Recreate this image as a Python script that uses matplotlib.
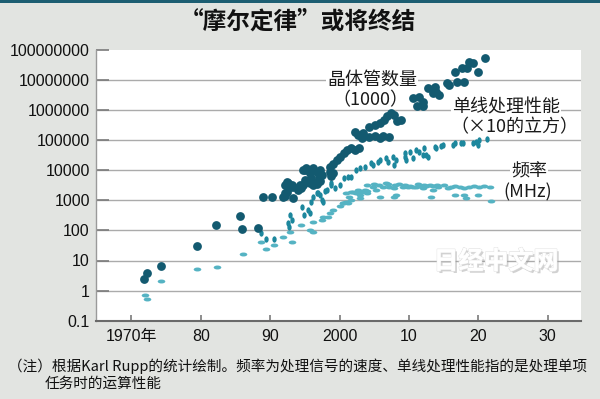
import numpy as np
import matplotlib
matplotlib.use('Agg')
import matplotlib.pyplot as plt
from matplotlib.path import Path
from matplotlib.patches import Rectangle
import matplotlib.patheffects as pe

plt.rcParams['font.family'] = ['Liberation Sans', 'Noto Sans CJK SC', 'DejaVu Sans']
CJK = ['Noto Sans CJK SC', 'DejaVu Sans']

# ---- data ----
trans_year = [1971.8, 1972.2, 1974.3, 1979.4, 1982.2, 1985.7, 1986.0, 1988.3, 1989.0, 1990.2,
              1991.9, 1992.1, 1992.2, 1992.4, 1992.6, 1992.9, 1993.1, 1993.3, 1994.0, 1994.3,
              1994.5, 1995.0, 1995.0, 1995.7, 1995.9, 1996.2, 1996.2, 1996.7, 1996.7, 1997.0,
              1997.2, 1998.6, 1998.8, 1999.1, 1999.6, 2000.1, 2000.6, 2001.1, 2001.6, 2002.2,
              2002.8, 2002.2, 2002.7, 2003.2, 2003.4, 2004.3, 2005.1, 2005.8, 2006.3, 2007.2,
              2004.3, 2005.1, 2005.8, 2006.4, 2006.9, 2007.4, 2007.9, 2008.3, 2008.9, 2010.6,
              2011.2, 2011.5, 2012.0, 2012.0, 2012.7, 2013.4, 2013.7, 2013.9, 2014.4, 2015.5,
              2015.8, 2016.6, 2016.9, 2018.0, 2017.6, 2018.3, 2018.7, 2019.2, 2019.9, 2020.9,
              1992.1, 1992.4, 1993.3, 1994.8, 1995.2, 1995.2, 1995.7, 1996.2, 1994.8, 1997.2,
              1997.4, 1999.1, 1998.6]
trans_value = [2.4, 3.8, 6.5, 30, 148, 295, 110, 120, 1260, 1260,
               1260, 3240, 1410, 1950, 3800, 2820, 3310, 1200, 2190, 3160,
               2630, 4680, 10000, 7940, 5370, 11500, 3980, 8910, 3390, 6030,
               4370, 8910, 6310, 15800, 21900, 28200, 36300, 46800, 53700, 46800,
               53700, 190500, 147900, 120200, 169800, 125900, 134900, 120200, 131800, 125900,
               281800, 316200, 363100, 467700, 631000, 776200, 676100, 416900, 467700, 2455000,
               1318000, 2754000, 1905000, 1318000, 5248000, 3548000, 5888000, 4074000, 3162000, 7762000,
               6761000, 18620000, 8710000, 8710000, 24550000, 24550000, 39810000, 35480000, 18620000, 54950000,
               1700, 4170, 2820, 10000, 11480, 4170, 3630, 3240, 3240, 10000,
               6920, 7940, 13180]

single_year = [1988.7, 1989.4, 1990.6, 1992.6, 1992.7, 1992.8, 1993.1, 1994.6, 1994.9, 1995.5,
               1995.7, 1995.9, 1996.2, 1996.7, 1997.2, 1997.4, 1997.6, 1997.9, 1998.2, 1998.8,
               1999.3, 2000.0, 2000.7, 2001.2, 2001.7, 2002.4, 2002.9, 2003.6, 2004.6, 2004.8,
               2005.5, 2005.8, 2006.7, 2007.0, 2007.7, 2007.9, 2008.2, 2009.4, 2009.4, 2009.6,
               2010.1, 2010.6, 2011.0, 2011.5, 2012.0, 2012.2, 2012.5, 2012.7, 2013.7, 2013.9,
               2014.6, 2014.9, 2016.3, 2016.6, 2017.5, 2017.8, 2019.2, 2019.7, 2019.9, 2020.1,
               2021.2, 1996.9, 1998.8]
single_value = [83, 50, 52, 174, 132, 324, 224, 617, 324, 479,
                372, 891, 1318, 1698, 1514, 1023, 891, 1995, 2239, 3236,
                2512, 3236, 5370, 6026, 6026, 10000, 11480, 13180, 16980, 14790,
                19050, 21880, 24550, 19050, 28180, 14790, 21880, 28180, 36310, 21880,
                40740, 24550, 46770, 40740, 31620, 53700, 31620, 28180, 60260, 53700,
                64570, 69180, 69180, 77620, 77620, 77620, 77620, 89130, 69180, 100000,
                109600, 1700, 3630]

freq_year = [1971.9, 1972.2, 1974.3, 1979.5, 1982.3, 1986.1, 1988.7, 1989.4, 1990.6, 1991.9,
             1992.8, 1993.1, 1994.5, 1995.7, 1996.2, 1996.2, 1997.4, 1997.6, 1998.4, 1998.6,
             1999.1, 2000.0, 2000.5, 2001.0, 2001.4, 2001.7, 2002.0, 2002.6, 2002.9, 2003.0,
             2003.6, 2004.0, 2004.8, 2005.3, 2005.8, 2006.7, 2007.2, 2007.9, 2008.2, 2009.1,
             2009.8, 2010.2, 2011.0, 2011.7, 2012.0, 2012.5, 2013.0, 2013.2, 2013.4, 2014.2,
             2015.0, 2015.7, 2016.0, 2016.6, 2016.6, 2017.3, 2018.0, 2018.0, 2018.2, 2018.7,
             2019.4, 2019.9, 2020.1, 2020.8, 2021.7, 2021.8,
             2001.0, 2001.7, 2002.4, 2003.1, 2003.9, 2007.9, 2000.5, 2001.2,
             2004.0, 2005.0, 2005.7, 2006.2, 2007.0, 2008.0, 2008.6, 2009.5, 2010.6, 2011.3,
             2012.2, 2013.4, 2014.0]
freq_value = [0.72, 0.51, 2.1, 5.1, 6.2, 16.6, 40, 25, 34, 62,
              91, 42, 151, 102, 91, 195, 224, 288, 275, 372,
              479, 631, 794, 891, 1318, 1023, 1905, 2188, 1514, 1175,
              2188, 1995, 2818, 2188, 1318, 3631, 2818, 2512, 1514, 2818,
              2818, 3020, 2818, 2951, 2512, 3020, 3162, 1318, 2188, 2818,
              3311, 2630, 2818, 3020, 1514, 2818, 2630, 1514, 1175, 2818,
              3020, 1514, 2818, 2951, 2818, 955,
              1778, 1862, 1698, 1950, 1738, 1318, 832, 794,
              3311, 3548, 3162, 2818, 3548, 3162, 3548, 3311, 2818, 3548,
              3162, 2951, 3311]

y_ticks = [0.1, 1, 10, 100, 1000, 10000, 100000, 1000000, 10000000, 100000000]
y_labels = ['0.1', '1', '10', '100', '1000', '10000', '100000', '1000000', '10000000', '100000000']
x_ticks = [1970, 1980, 1990, 2000, 2010, 2020, 2030]
x_labels = ['1970年', '80', '90', '2000', '10', '20', '30']

# ---- figure ----
W, H = 600, 399
fig = plt.figure(figsize=(6, 3.99), dpi=100)
fig.patch.set_facecolor('#e2e4e1')
fig.patches.append(Rectangle((0, 1 - 3 / H), 1, 3 / H, transform=fig.transFigure,
                             facecolor='#1d5e72', edgecolor='none', zorder=0))

ax = fig.add_axes([96 / W, 78.3 / H, 485 / W, 270.9 / H])
ax.set_facecolor('white')
ax.set_yscale('log')
ax.set_ylim(0.1, 1e8)
ax.set_xlim(1964.9, 2034.8)

for v in y_ticks[1:-1]:
    ax.axhline(v, color='#ababab', lw=1.0, zorder=1)

ax.set_yticks(y_ticks)
ax.set_yticklabels(y_labels)
ax.yaxis.set_minor_locator(matplotlib.ticker.NullLocator())
ax.set_xticks(x_ticks)
ax.set_xticklabels(x_labels)
ax.tick_params(axis='y', direction='in', length=9, width=1.2, color='#7a7a7a',
               labelsize=11.5, pad=4.5, labelcolor='#111111')
ax.tick_params(axis='x', direction='in', length=4.5, width=1.2, color='#7a7a7a',
               labelsize=11.5, pad=6, labelcolor='#111111')
for s in ['top', 'right']:
    ax.spines[s].set_visible(False)
ax.spines['left'].set_color('#9a9a9a')
ax.spines['left'].set_linewidth(1.0)
ax.spines['bottom'].set_color('#6a6a6a')
ax.spines['bottom'].set_linewidth(1.5)


def ellipse_marker(sx, sy):
    c = Path.unit_circle()
    return Path(c.vertices * np.array([sx, sy]), c.codes)


ax.scatter(freq_year, freq_value, marker=ellipse_marker(1.0, 0.52), s=30,
           color='#55b3c3', linewidths=0, zorder=3)
ax.scatter(single_year, single_value, marker=ellipse_marker(0.68, 1.0), s=21,
           color='#1d879d', linewidths=0, zorder=4)
ax.scatter(trans_year, trans_value, marker='o', s=40,
           color='#135a70', linewidths=0, zorder=5)

def px(x, y):
    return x / W, 1 - y / H

box = dict(facecolor='white', edgecolor='none', pad=0.8)
lab_kw = dict(fontsize=13, ha='center', va='center', color='#1a1a1a', family=CJK)
fig.text(*px(372, 80), '晶体管数量', bbox=box, **lab_kw)
fig.text(*px(370, 100), '（1000）', **lab_kw)
fig.text(*px(506, 107), '单线处理性能', bbox=box, **lab_kw)
fig.text(*px(514, 127), '（×10的立方）', **lab_kw)
fig.text(*px(529, 171), '频率', bbox=box, **lab_kw)
fig.text(*px(528, 192), '(MHz)', **lab_kw)

# watermark
fig.text(*px(496, 262), '日经中文网', fontsize=18, fontweight='bold', ha='center', va='center',
         color='white', family=CJK,
         path_effects=[pe.withSimplePatchShadow(offset=(1.5, -1.5), shadow_rgbFace='#9a9a9a', alpha=0.45),
                       pe.withStroke(linewidth=1.0, foreground='#e4e4e4'), pe.Normal()])

fig.text(*px(298, 22), '“摩尔定律”或将终结', fontsize=17, fontweight='bold', ha='center', va='center',
         color='#111111', family=CJK)

fig.text(*px(8, 366), '（注）根据Karl Rupp的统计绘制。频率为处理信号的速度、单线处理性能指的是处理单项',
         fontsize=10.5, ha='left', va='center', color='#111111', family=CJK)
fig.text(*px(45, 384), '任务时的运算性能', fontsize=10.5, ha='left', va='center', color='#111111', family=CJK)

fig.savefig('out.png', dpi=100, facecolor=fig.get_facecolor())
